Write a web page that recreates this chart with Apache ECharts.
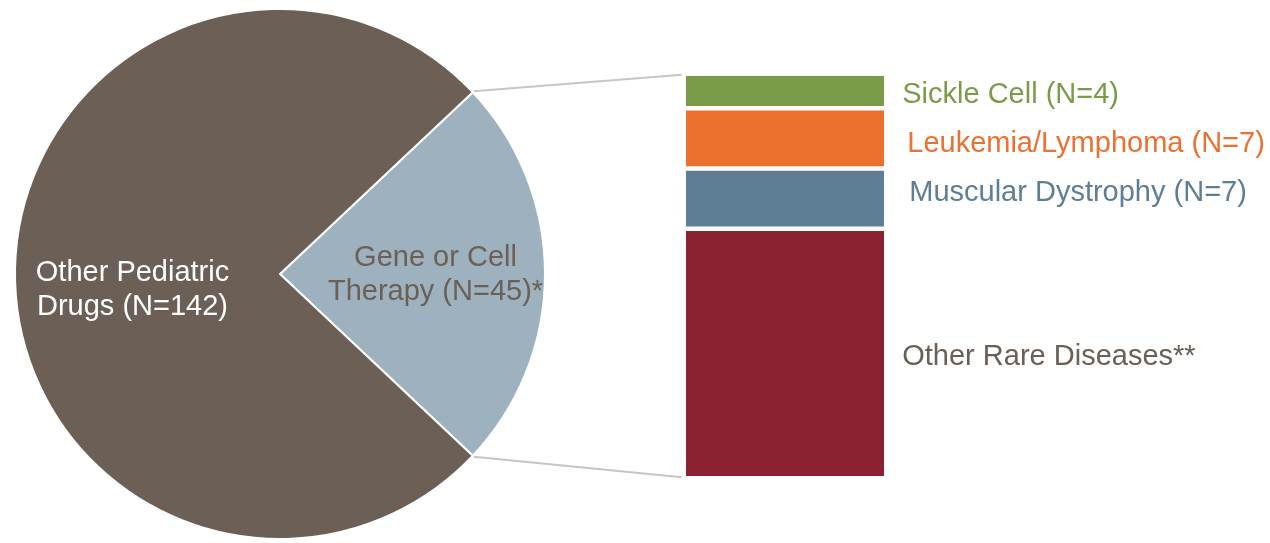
<!DOCTYPE html>
<html>
<head>
<meta charset="utf-8">
<title>Pediatric drugs: gene or cell therapy breakdown</title>
<script src="https://cdn.jsdelivr.net/npm/echarts@6/dist/echarts.min.js"></script>
<style>
  html, body { margin: 0; padding: 0; background: #ffffff; }
  #chart { width: 1270px; height: 543px; }
</style>
</head>
<body>
<div id="chart"></div>
<script>
// Pie: all pediatric drugs, split by gene/cell therapy
const pieNames = ['Gene or Cell Therapy', 'Other Pediatric Drugs'];
const pieValues = [45, 142];
const pieLabels = ['Gene or Cell\nTherapy (N=45)*', 'Other Pediatric\nDrugs (N=142)'];

// Bar: breakdown of the gene or cell therapy slice
const barNames = ['Sickle Cell', 'Leukemia/Lymphoma', 'Muscular Dystrophy', 'Other Rare Diseases'];
const barValues = [4, 7, 7, 29];
const barLabels = ['Sickle Cell (N=4)', 'Leukemia/Lymphoma (N=7)', 'Muscular Dystrophy (N=7)', 'Other Rare Diseases**'];

const FONT = '"Liberation Sans", Arial, sans-serif';
const pieColors = ['#9db1bf', '#6c6056'];
const barColors = ['#7a9c49', '#ec7131', '#5e7e96', '#8a2233'];
const barTextColors = ['#7a9c49', '#ec7131', '#5e7e96', '#6c6056'];
// per-label nudges [dx, dy] for the bar captions
const barLabelOffsets = [[0, 4], [5, 6], [7, -6], [0, 4]];
// per-label nudges for the pie captions
const pieLabelOffsets = [[10, 0.5], [-6, 8]];

const BORDER = 2.25;
const pieTotal = pieValues.reduce((a, b) => a + b, 0);
const barTotal = barValues.reduce((a, b) => a + b, 0);
// centre the gene/cell slice on the right-hand horizontal
const startDeg = pieValues[0] / pieTotal * 180;

const chart = echarts.init(document.getElementById('chart'), null, { renderer: 'canvas' });

const barSeries = barNames.map((name, i) => ({
  type: 'bar',
  name: name,
  stack: 'gct',
  barWidth: '100%',
  data: [barValues[i]],
  itemStyle: { color: barColors[i], borderColor: '#ffffff', borderWidth: BORDER },
  label: {
    show: true,
    position: 'right',
    distance: 16,
    offset: barLabelOffsets[i],
    formatter: () => barLabels[i],
    color: barTextColors[i],
    fontFamily: FONT,
    fontSize: 29
  },
  silent: true
}));

chart.setOption({
  animation: false,
  grid: { left: 686 - BORDER, top: 76 - BORDER, width: 198 + 2 * BORDER, height: 400 + 2 * BORDER },
  xAxis: { type: 'category', data: ['GCT'], show: false },
  yAxis: { type: 'value', min: 0, max: barTotal, inverse: true, show: false },
  series: [
    {
      type: 'pie',
      center: [280, 274],
      radius: [0, 265],
      startAngle: startDeg,
      clockwise: true,
      silent: true,
      itemStyle: { borderColor: '#ffffff', borderWidth: 2 },
      labelLine: { show: false },
      labelLayout: (p) => ({ dx: pieLabelOffsets[p.dataIndex][0], dy: pieLabelOffsets[p.dataIndex][1] }),
      data: pieNames.map((n, i) => ({
        name: n,
        value: pieValues[i],
        itemStyle: { color: pieColors[i] },
        label: {
          show: true,
          position: 'inside',
          formatter: () => pieLabels[i],
          color: i === 0 ? '#6c6056' : '#ffffff',
          fontFamily: FONT,
          fontSize: 29,
          lineHeight: 34,
          align: 'center'
        }
      }))
    }
  ].concat(barSeries)
});

// connector lines from the slice edges to the bar's outer corners
const pieLayout = chart.getModel().getSeriesByIndex(0).getData().getItemLayout(0);
const a = startDeg * Math.PI / 180;
const cx = pieLayout.cx, cy = pieLayout.cy, r = pieLayout.r;
const px = cx + r * Math.cos(a);
const pTop = cy - r * Math.sin(a);
const pBot = cy + r * Math.sin(a);
const yTop = chart.convertToPixel({ yAxisIndex: 0 }, 0);
const yBot = chart.convertToPixel({ yAxisIndex: 0 }, barTotal);
const bx = 686 - BORDER - 2;

chart.setOption({
  graphic: [
    { type: 'line', shape: { x1: px + 1, y1: pTop - 1, x2: bx, y2: yTop + 1 },
      style: { stroke: '#c6c6c6', lineWidth: 2 }, silent: true },
    { type: 'line', shape: { x1: px + 1, y1: pBot + 1, x2: bx, y2: yBot - 1 },
      style: { stroke: '#c6c6c6', lineWidth: 2 }, silent: true }
  ]
});
</script>
</body>
</html>
